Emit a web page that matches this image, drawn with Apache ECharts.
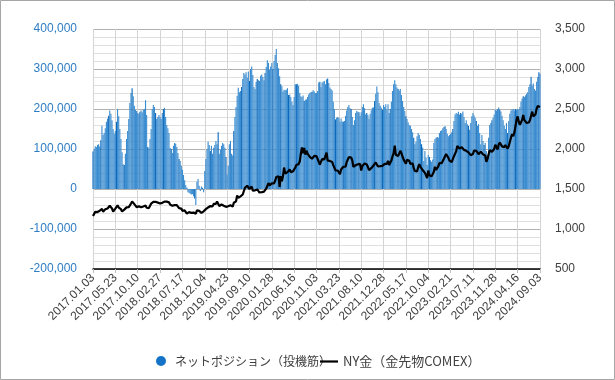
<!DOCTYPE html>
<html><head><meta charset="utf-8">
<script src="https://cdn.jsdelivr.net/npm/echarts@6/dist/echarts.min.js"></script>
<style>html,body{margin:0;padding:0;background:#fff}#c{width:615px;height:380px}</style>
</head><body><div id="c"></div>
<script>
// Weekly dates (every Tuesday) from 2017.01.03 to 2024.09.03
const firstWeek = '2017-01-03';
const weekCount = 401;
const categories = [];
(function(){
  const d0 = new Date(firstWeek + 'T00:00:00Z');
  for (let i = 0; i < weekCount; i++) {
    const d = new Date(d0.getTime() + i * 7 * 86400000);
    const p = n => String(n).padStart(2, '0');
    categories.push(d.getUTCFullYear() + '.' + p(d.getUTCMonth() + 1) + '.' + p(d.getUTCDate()));
  }
})();

// Net position (speculators), thousands of contracts
const netPositionK = [
  94,100,107,105,110,112,106,122,158,135,140,152,168,176,183,196,188,172,150,138,
  145,168,200,182,150,125,92,62,60,88,125,145,175,215,240,252,232,208,198,195,
  190,188,193,196,192,198,200,222,185,105,102,125,150,200,210,205,190,175,180,185,
  180,175,190,200,203,180,160,152,140,103,100,90,108,115,113,105,90,75,70,58,
  48,35,22,10,3,-8,-10,-12,-14,-13,-18,-24,-40,18,25,8,-5,6,3,-8,
  45,75,100,118,110,95,108,88,103,110,120,112,142,88,98,108,115,112,103,80,
  36,58,112,120,88,84,145,180,205,233,253,242,245,255,275,290,286,292,278,294,
  270,300,306,285,255,250,268,275,272,270,283,286,280,272,290,305,322,315,298,306,
  315,300,320,335,350,315,302,282,262,257,244,248,247,248,252,235,236,230,218,210,
  230,262,262,263,258,240,232,230,234,220,223,224,230,236,240,242,243,247,244,240,
  240,245,266,268,255,266,268,270,262,274,276,265,254,250,246,218,200,174,178,180,
  178,168,176,169,168,170,183,196,205,210,202,200,180,160,172,190,195,193,192,183,
  192,205,212,202,187,190,185,175,188,197,203,204,220,238,256,242,215,208,203,198,
  210,205,212,198,212,190,200,218,245,262,272,262,254,250,246,250,235,220,205,195,
  182,175,167,160,158,150,142,128,112,118,132,140,135,125,112,104,70,95,78,60,
  85,80,72,68,74,115,125,128,130,128,140,145,147,152,155,157,150,138,132,135,
  138,142,150,170,186,190,188,193,186,190,188,194,180,165,172,162,158,148,165,182,
  190,184,178,170,158,162,140,112,135,120,110,115,95,70,128,160,165,172,178,186,
  198,196,200,204,198,194,183,172,158,150,165,140,170,188,196,198,200,196,200,198,
  200,198,205,218,226,232,230,234,238,242,255,262,280,258,264,250,246,268,280,292,
  288
];

// NY gold (COMEX futures), USD
const goldPrice = [
  1162,1185,1214,1210,1212,1236,1228,1237,1252,1216,1203,1247,1255,1257,1276,1290,1268,1257,1218,1237,
  1254,1263,1297,1268,1244,1247,1220,1215,1242,1254,1270,1263,1274,1291,1318,1344,1335,1311,1297,1274,
  1294,1283,1276,1271,1276,1282,1282,1294,1266,1242,1262,1285,1317,1313,1338,1339,1340,1329,1330,1326,
  1318,1337,1327,1313,1342,1337,1342,1350,1333,1305,1313,1290,1291,1298,1297,1299,1278,1260,1253,1255,
  1227,1231,1233,1219,1193,1201,1211,1198,1202,1207,1205,1207,1191,1233,1236,1226,1232,1202,1223,1221,
  1243,1248,1255,1269,1284,1287,1292,1283,1313,1315,1315,1344,1330,1287,1295,1306,1317,1291,1309,1277,
  1276,1285,1284,1296,1273,1280,1328,1330,1346,1419,1389,1400,1408,1424,1431,1475,1515,1508,1541,1557,
  1499,1513,1532,1480,1505,1483,1488,1495,1484,1456,1473,1461,1482,1468,1481,1505,1523,1574,1545,1558,
  1570,1555,1571,1603,1650,1644,1660,1526,1660,1596,1660,1768,1694,1707,1711,1706,1745,1711,1728,1721,
  1727,1768,1800,1809,1811,1843,1944,2019,1946,2013,1929,1978,1943,1966,1902,1895,1878,1894,1915,1908,
  1910,1876,1886,1805,1818,1873,1855,1870,1882,1954,1855,1840,1851,1834,1838,1799,1805,1733,1716,1731,
  1726,1685,1743,1746,1778,1778,1779,1836,1868,1899,1904,1894,1858,1778,1762,1797,1809,1809,1799,1814,
  1731,1788,1807,1818,1797,1806,1776,1737,1761,1760,1770,1793,1788,1832,1854,1782,1776,1785,1771,1790,
  1810,1814,1820,1813,1853,1801,1827,1855,1907,1944,2043,1928,1922,1911,1927,1977,1948,1903,1867,1841,
  1815,1866,1848,1852,1813,1838,1821,1764,1725,1711,1719,1775,1812,1776,1761,1737,1718,1702,1671,1636,
  1730,1673,1652,1658,1649,1715,1778,1740,1763,1782,1825,1826,1823,1846,1878,1910,1936,1942,1890,1854,
  1842,1836,1820,1910,1941,1973,2038,2019,2007,2004,2023,2035,1989,1975,1977,1978,1958,1936,1923,1929,
  1936,1979,1965,1978,1960,1935,1926,1967,1953,1933,1953,1919,1841,1876,1935,1985,2005,1965,1966,2000,
  2054,2037,1993,2052,2081,2073,2033,2030,2023,2050,2051,2005,2035,2044,2141,2188,2160,2201,2281,2361,
  2407,2342,2303,2324,2364,2425,2361,2350,2327,2347,2331,2359,2374,2467,2408,2427,2434,2505,2538,2553,
  2526
];

const seriesNames = ['ネットポジション（投機筋）', 'NY金（金先物COMEX）'];
const leftTicks = { min: -200000, max: 400000, step: 100000 };
const rightTicks = { min: 500, max: 3500, step: 500 };

const netPosition = netPositionK.map(v => v * 1000);
const fmt = v => Number(v).toLocaleString('en-US');
const legendFont = 'Noto Sans CJK JP, Liberation Sans, sans-serif';
const chart = echarts.init(document.getElementById('c'), null, { renderer: 'canvas' });
chart.setOption({
  animation: false,
  backgroundColor: '#ffffff',
  textStyle: { fontFamily: 'Liberation Sans, Arial, sans-serif' },
  graphic: [{ type: 'rect', shape: { x: 0.5, y: 0.5, width: 614, height: 379 }, style: { fill: 'none', stroke: '#a6a6a6', lineWidth: 1 }, silent: true }],
  grid: { left: 93, right: 75, top: 29, bottom: 111, containLabel: false },
  legend: [
    {
      left: 151, top: 350, itemWidth: 18, itemHeight: 10,
      textStyle: { fontSize: 12, color: '#404040', fontFamily: legendFont },
      data: [{ name: seriesNames[0], icon: 'circle', itemStyle: { color: '#1473c6' } }]
    },
    {
      left: 315, top: 350, itemWidth: 18, itemHeight: 10, symbolKeepAspect: true,
      textStyle: { fontSize: 13, color: '#404040', fontFamily: legendFont },
      data: [{ name: seriesNames[1], icon: 'path://M0,0 L18,0 L18,2.2 L0,2.2 Z', itemStyle: { color: '#000000' } }]
    }
  ],
  xAxis: {
    type: 'category', data: categories, boundaryGap: false,
    axisLine: { onZero: false, lineStyle: { color: '#000000', width: 1.5 } },
    axisTick: { show: true, interval: 19, length: 4, lineStyle: { color: '#bfbfbf' } },
    axisLabel: { interval: 19, rotate: 45, fontSize: 12, color: '#404040', margin: 7 },
    splitLine: { show: true, interval: 19, lineStyle: { color: '#d4d4d4', width: 1 } }
  },
  yAxis: [
    {
      type: 'value', min: leftTicks.min, max: leftTicks.max, interval: leftTicks.step,
      axisLine: { show: false }, axisTick: { show: false },
      axisLabel: { color: '#2e7dc4', fontSize: 12, margin: 16, formatter: fmt },
      splitLine: { lineStyle: { color: '#b0b0b0', width: 1 } },
      minorTick: { show: false, splitNumber: 5 },
      minorSplitLine: { show: true, lineStyle: { color: '#e0e0e0', width: 1 } }
    },
    {
      type: 'value', position: 'right', min: rightTicks.min, max: rightTicks.max, interval: rightTicks.step,
      axisLine: { show: false }, axisTick: { show: false },
      axisLabel: { color: '#404040', fontSize: 12, margin: 15, formatter: fmt },
      splitLine: { show: false }
    }
  ],
  series: [
    {
      name: seriesNames[0], type: 'bar', data: netPosition, yAxisIndex: 0,
      barCategoryGap: '0%', barGap: '0%',
      itemStyle: { color: p => (p.dataIndex % 7 === 0 ? '#0d69bb' : '#3a8cd0') }
    },
    {
      name: seriesNames[1], type: 'line', data: goldPrice, yAxisIndex: 1,
      symbol: 'none', showSymbol: false,
      lineStyle: { color: '#000000', width: 2.2 }, itemStyle: { color: '#000000' }
    }
  ]
});
</script>
</body></html>
